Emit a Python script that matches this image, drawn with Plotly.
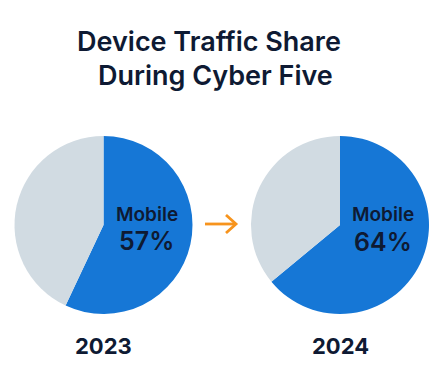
import plotly.graph_objects as go

years = ["2023", "2024"]
mobile_share = [57, 64]
other_share = [43, 36]
slice_labels = ["Mobile", "Other"]

W, H = 444, 369
BLUE = "#1677d6"
GREY = "#d1dbe2"
DARK = "#0e1a33"
ORANGE = "#f7941d"

fig = go.Figure()

# pixel boxes for pies (x0, x1, y_top, y_bottom)
boxes = [(14, 193, 136, 314), (250, 430, 136, 314)]
label_pos = [(146.5, 214, 241), (383, 214, 242)]


def px(x):
    return x / W


def py(y):
    return 1 - y / H


def ann(x, y, text, size, weight, family="Inter", color=DARK):
    fig.add_annotation(x=px(x), y=py(y), xref="paper", yref="paper",
                       xanchor="center", yanchor="middle",
                       text=text, showarrow=False,
                       font=dict(family=family, size=size, color=color, weight=weight))


for i, yr in enumerate(years):
    x0, x1, yt, yb = boxes[i]
    fig.add_trace(go.Pie(
        labels=slice_labels,
        values=[mobile_share[i], other_share[i]],
        marker=dict(colors=[BLUE, GREY], line=dict(width=0)),
        sort=False,
        direction="clockwise",
        rotation=0,
        textinfo="none",
        hoverinfo="label+percent",
        showlegend=False,
        domain=dict(x=[px(x0), px(x1)], y=[py(yb), py(yt)]),
    ))
    lx, ly1, ly2 = label_pos[i]
    ann(lx, ly1, "Mobile", 19, 600)
    ann(lx, ly2, f"{mobile_share[i]}%", 25, 600)
    cx = (x0 + x1) / 2
    ann(cx, 346, yr, 22, 700)

# title
ann(209, 41, "Device Traffic Share", 27, 600)
ann(215, 75, "During Cyber Five", 27, 600)

# arrow (decorative)
line = dict(color=ORANGE, width=2.8)
fig.add_shape(type="line", xref="paper", yref="paper",
              x0=px(205), x1=px(236), y0=py(224), y1=py(224), line=line)
fig.add_shape(type="path", xref="paper", yref="paper",
              path=f"M {px(226)},{py(215)} L {px(236)},{py(224)} L {px(226)},{py(233)}",
              line=line)

fig.update_layout(width=W, height=H, margin=dict(l=0, r=0, t=0, b=0),
                  paper_bgcolor="white", plot_bgcolor="white")

fig.write_html("out.html", post_script="document.body.style.margin='0';",
               config={"displayModeBar": False})
